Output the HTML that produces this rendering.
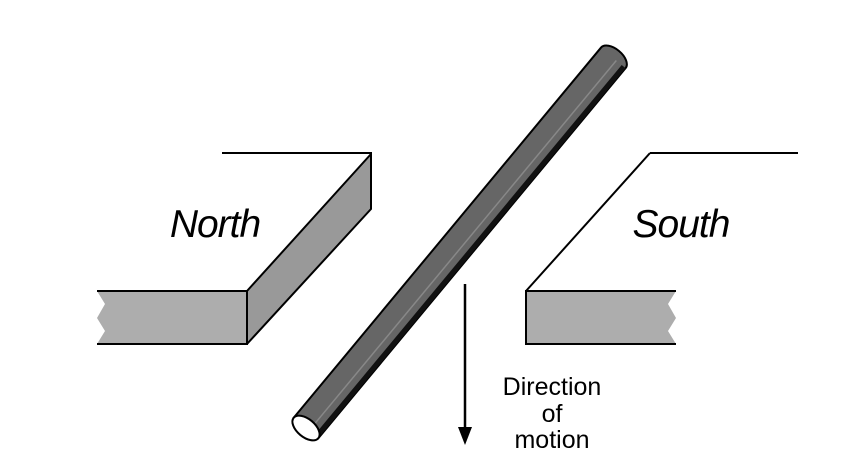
<!DOCTYPE html>
<html><head><style>
html,body{margin:0;padding:0;background:#fff;}
svg{display:block;}
text{font-family:"Liberation Sans",Arial,sans-serif;}
</style></head><body>
<svg width="852" height="472" viewBox="0 0 852 472" xmlns="http://www.w3.org/2000/svg">
<!-- North pole -->
<line x1="222" y1="153" x2="372" y2="153" stroke="#000" stroke-width="2"/>
<polygon points="247,291 371,154 371,209 247,344" fill="#999" stroke="#000" stroke-width="2" stroke-linejoin="round"/>
<polygon points="97,291 247,291 247,344 97,344 105,331 97,318 105,304" fill="#adadad"/>
<polyline points="97,291 247,291 247,344 97,344" fill="none" stroke="#000" stroke-width="2"/>
<text x="215" y="237" font-size="39" font-style="italic" text-anchor="middle" letter-spacing="-1">North</text>
<!-- South pole -->
<line x1="650" y1="153" x2="798" y2="153" stroke="#000" stroke-width="2"/>
<line x1="650" y1="153" x2="526" y2="291" stroke="#000" stroke-width="2"/>
<polygon points="526,291 676,291 668,304 676,318 668,331 676,344 526,344" fill="#adadad"/>
<polyline points="676,291 526,291 526,344 676,344" fill="none" stroke="#000" stroke-width="2"/>
<text x="681" y="237" font-size="39" font-style="italic" text-anchor="middle" letter-spacing="-1">South</text>
<!-- Rod -->
<g transform="translate(306,428) rotate(-50.3)">
  <path d="M0,-16 L481,-16 A9,16 0 0 1 481,16 L0,16 Z" fill="#666" stroke="#000" stroke-width="2"/>
  <rect x="0" y="11" width="481" height="5" fill="#111"/>
  <line x1="0" y1="4" x2="481" y2="4" stroke="#888" stroke-width="1.5"/>
  <ellipse cx="0" cy="0" rx="9" ry="16" fill="#fff" stroke="#000" stroke-width="2"/>
</g>
<!-- Arrow -->
<line x1="465" y1="284" x2="465" y2="432" stroke="#000" stroke-width="2.5"/>
<polygon points="458,427 472,427 465,445" fill="#000"/>
<text x="552" y="395" font-size="25" text-anchor="middle">Direction</text>
<text x="552" y="422" font-size="25" text-anchor="middle">of</text>
<text x="552" y="448" font-size="25" text-anchor="middle">motion</text>
</svg>
</body></html>
